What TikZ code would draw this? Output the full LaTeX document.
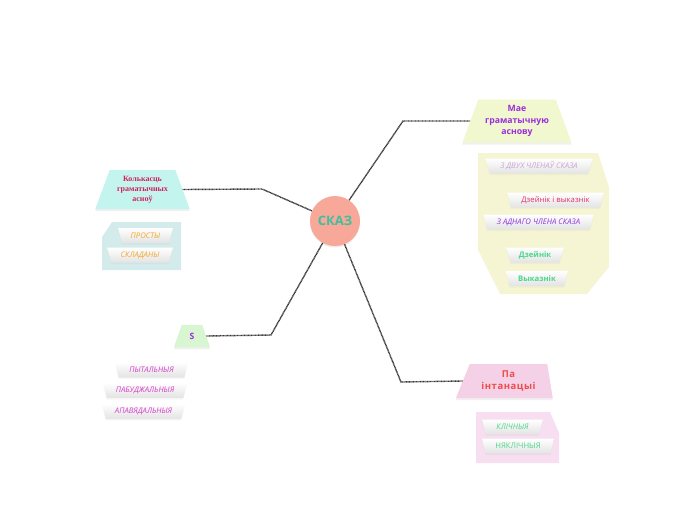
\documentclass[tikz,border=0pt]{standalone}
\usepackage{fontspec}
\setmainfont{Open Sans}
\newfontfamily\serifhead{Liberation Serif}
\usetikzlibrary{shapes.geometric, shadows}

\definecolor{skazfill}{HTML}{F8A898}
\definecolor{skaztext}{HTML}{3DBF9C}
\definecolor{maefill}{HTML}{F1F7CE}
\definecolor{maegroup}{HTML}{F5F5D3}
\definecolor{maetext}{HTML}{9B30DC}
\definecolor{kolfill}{HTML}{C3F4EE}
\definecolor{kolgroup}{HTML}{D4EBEC}
\definecolor{koltext}{HTML}{D4205E}
\definecolor{sfill}{HTML}{D8F6D2}
\definecolor{pafill}{HTML}{F4D1E6}
\definecolor{pagroup}{HTML}{F7DEF0}
\definecolor{patext}{HTML}{F04C4C}
\definecolor{dvuhtext}{HTML}{C8A2D6}
\definecolor{dzvtext}{HTML}{E6306A}
\definecolor{adntext}{HTML}{8E30E0}
\definecolor{greentext}{HTML}{4CD68A}
\definecolor{orangetext}{HTML}{F5A623}
\definecolor{magtext}{HTML}{D63CC8}

\begin{document}
\begin{tikzpicture}[x=1pt, y=-1pt]
    % Styles
    \tikzstyle{central} = [circle, fill=skazfill, minimum size=50pt, inner sep=0pt, text=skaztext, font=\fontsize{13}{15}\selectfont\bfseries, drop shadow={opacity=0.15, shadow xshift=0pt, shadow yshift=-1.5pt}]
    \tikzstyle{topic} = [trapezium, trapezium left angle=68, trapezium right angle=68, trapezium stretches=true, inner sep=1pt, align=center, font=\fontsize{8.7}{11.5}\selectfont\bfseries, drop shadow={opacity=0.12, shadow xshift=0pt, shadow yshift=-2pt}]
    \tikzstyle{item} = [trapezium, shape border rotate=180, trapezium left angle=72, trapezium right angle=72, trapezium stretches=true, inner sep=1pt, minimum height=15pt, top color=white, bottom color=black!11, font=\fontsize{7.7}{9}\selectfont\itshape, drop shadow={opacity=0.06, shadow xshift=0pt, shadow yshift=-1.5pt}]
    \tikzstyle{link} = [draw=black!80, line width=1.4pt, dash pattern=on 0.9pt off 0.5pt]

    \useasboundingbox (0,0) rectangle (697,520);

    % Group backgrounds
    \fill[maegroup] (478,153) -- (598,153) -- (609,187) -- (609,267) -- (587,294) -- (500,294) -- (478,250) -- cycle;
    \fill[kolgroup] (112,222) -- (181,222) -- (181,270) -- (102,270) -- (102,237) -- cycle;
    \fill[pagroup] (476,412) -- (550,412) -- (559,433) -- (559,463) -- (476,463) -- cycle;

    % Nodes
    \node (skaz) [central] at (335,221) {СКАЗ};

    \node (mae) [topic, fill=maefill, text=maetext, minimum width=110pt, minimum height=43pt] at (517,121) {Мае\\граматычную\\аснову};
    \node (kol) [topic, fill=kolfill, text=koltext, minimum width=95pt, minimum height=39pt, font=\fontsize{8}{9.8}\selectfont\serifhead\bfseries] at (142.5,189.5) {Колькасць\\граматычных\\асноў};
    \node (s) [topic, fill=sfill, text=maetext, minimum width=36pt, minimum height=22pt, trapezium left angle=73, trapezium right angle=73] at (192,336) {S};
    \node (pa) [topic, fill=pafill, text=patext, minimum width=97pt, minimum height=34pt, trapezium left angle=66, trapezium right angle=80, font=\fontsize{9.5}{12}\selectfont\bfseries\addfontfeature{LetterSpace=6}] at (508.5,381) {Па\\інтанацыі};

    % Items: Мае граматычную аснову
    \node (dvuh) [item, text=dvuhtext, minimum width=108pt] at (539,166) {З ДВУХ ЧЛЕНАЎ СКАЗА};
    \node (dzv) [item, text=dzvtext, minimum width=97pt, font=\fontsize{7.7}{9}\selectfont] at (555.5,200) {Дзейнік і выказнік};
    \node (adn) [item, text=adntext, minimum width=111pt] at (538.5,222) {З АДНАГО ЧЛЕНА СКАЗА};
    \node (dzeinik) [item, text=greentext, minimum width=58pt, font=\fontsize{7.7}{9}\selectfont\bfseries] at (535,255) {Дзейнік};
    \node (vykaznik) [item, text=greentext, minimum width=62pt, font=\fontsize{7.7}{9}\selectfont\bfseries] at (537,278.5) {Выказнік};

    % Items: Колькасць граматычных асноў
    \node (prosty) [item, text=orangetext, minimum width=55pt] at (145.5,235.5) {ПРОСТЫ};
    \node (skladany) [item, text=orangetext, minimum width=66pt] at (140,255) {СКЛАДАНЫ};

    % Items: S
    \node (pyt) [item, text=magtext, minimum width=73pt] at (151.5,370) {ПЫТАЛЬНЫЯ};
    \node (pab) [item, text=magtext, minimum width=84pt] at (145,390.5) {ПАБУДЖАЛЬНЫЯ};
    \node (apav) [item, text=magtext, minimum width=83pt] at (143.5,411.5) {АПАВЯДАЛЬНЫЯ};

    % Items: Па інтанацыі
    \node (klich) [item, text=greentext, minimum width=61pt] at (512.5,427) {КЛІЧНЫЯ};
    \node (nyaklich) [item, text=greentext, minimum width=72pt, font=\fontsize{7.7}{9}\selectfont] at (518,446) {НЯКЛІЧНЫЯ};

    % Knees of the connectors
    \coordinate (maeknee) at (403,121);
    \coordinate (kolknee) at (262,189);
    \coordinate (sknee) at (271,335);
    \coordinate (paknee) at (401,382);

    % Paths
    \draw [link] (skaz) -- (maeknee) -- (mae.left side);
    \draw [link] (skaz) -- (kolknee) -- (kol.right side);
    \draw [link] (skaz) -- (sknee) -- (s.right side);
    \draw [link] (skaz) -- (paknee) -- (pa.left side);

\end{tikzpicture}
\end{document}
